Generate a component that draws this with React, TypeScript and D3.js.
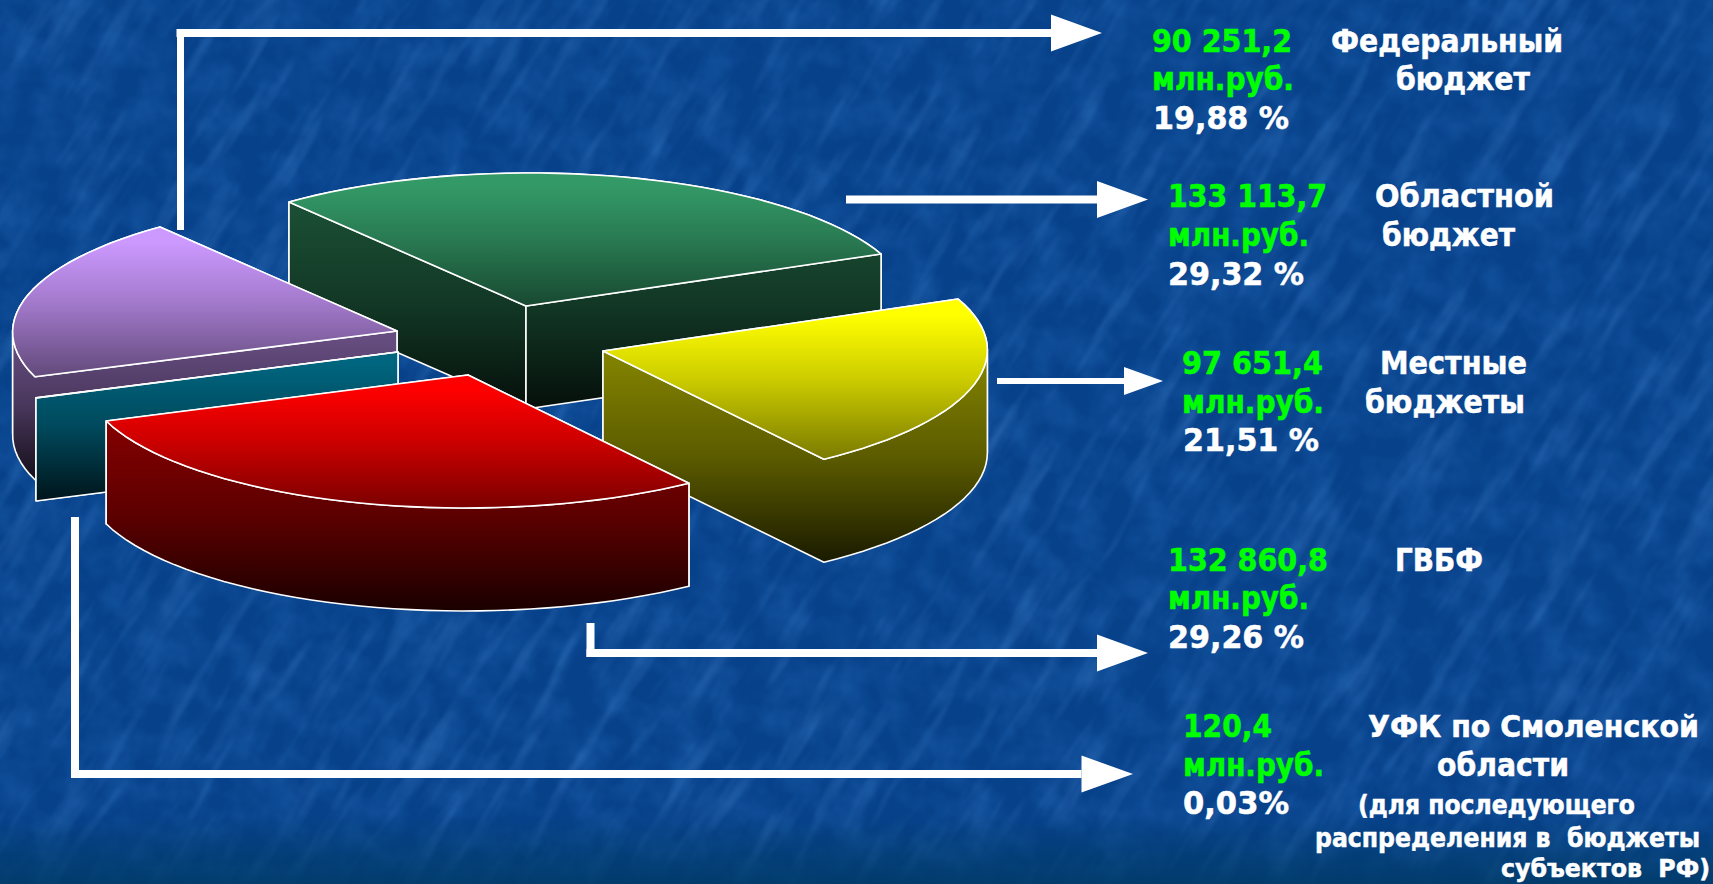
import React from "react";
import * as d3 from "d3";

// ---------- data ----------
const sliceKeys = ["region", "local", "gvbf", "ufk", "federal"];
const sliceValues = [133113.7, 97651.4, 132860.8, 120.4, 90251.2];
const sliceColors = ["#339966", "#FFFF00", "#FF0000", "#00CCFF", "#CC99FF"];
const drawOrder = ["region", "federal", "ufk", "local", "gvbf"];

// ---------- layout (not data) ----------
const W = 1713;
const H = 884;
const DEPTH = 103;
const E1: [number, number] = [-237, -104];
const E2: [number, number] = [302.6, -82.9];
const apexes: Record<string, [number, number]> = {
  region: [526, 306],
  local: [603, 351],
  gvbf: [468, 375],
  ufk: [398, 352],
  federal: [397, 331],
};

type Lab = { t: string; x: number; y: number; w: number; c: string; s?: number };
const GREEN = "#00FF00";
const WHITE = "#FFFFFF";
const labels: Lab[] = [
  { t: "90 251,2", x: 1152, y: 52, w: 140, c: GREEN },
  { t: "млн.руб.", x: 1152, y: 90, w: 142, c: GREEN },
  { t: "19,88 %", x: 1153, y: 129, w: 136, c: WHITE },
  { t: "Федеральный", x: 1331, y: 52, w: 232, c: WHITE },
  { t: "бюджет", x: 1396, y: 90, w: 134, c: WHITE },
  { t: "133 113,7", x: 1168, y: 207, w: 159, c: GREEN },
  { t: "млн.руб.", x: 1168, y: 246, w: 141, c: GREEN },
  { t: "29,32 %", x: 1168, y: 285, w: 136, c: WHITE },
  { t: "Областной", x: 1375, y: 207, w: 179, c: WHITE },
  { t: "бюджет", x: 1382, y: 246, w: 133, c: WHITE },
  { t: "97 651,4", x: 1182, y: 374, w: 141, c: GREEN },
  { t: "млн.руб.", x: 1182, y: 413, w: 142, c: GREEN },
  { t: "21,51 %", x: 1183, y: 451, w: 136, c: WHITE },
  { t: "Местные", x: 1380, y: 374, w: 147, c: WHITE },
  { t: "бюджеты", x: 1365, y: 413, w: 160, c: WHITE },
  { t: "132 860,8", x: 1168, y: 571, w: 160, c: GREEN },
  { t: "млн.руб.", x: 1168, y: 609, w: 141, c: GREEN },
  { t: "29,26 %", x: 1168, y: 648, w: 136, c: WHITE },
  { t: "ГВБФ", x: 1395, y: 571, w: 88, c: WHITE },
  { t: "120,4", x: 1183, y: 737, w: 89, c: GREEN },
  { t: "млн.руб.", x: 1183, y: 776, w: 141, c: GREEN },
  { t: "0,03%", x: 1183, y: 814, w: 106, c: WHITE },
  { t: "УФК по Смоленской", x: 1368, y: 737, w: 331, c: WHITE, s: 30 },
  { t: "области", x: 1437, y: 776, w: 132, c: WHITE },
  { t: "(для последующего", x: 1358, y: 814, w: 277, c: WHITE, s: 26 },
  { t: "распределения в\u00A0 бюджеты", x: 1315, y: 847, w: 385, c: WHITE, s: 26 },
  { t: "субъектов\u00A0 РФ)", x: 1501, y: 877, w: 209, c: WHITE, s: 25 },
];

type Arrow = { x0: number; y0?: number; x1: number; y: number; tip: number; th: number; hh: number };
const arrows: Arrow[] = [
  { x0: 180.5, y0: 230, x1: 1051, y: 33, tip: 1102, th: 8, hh: 18.5 },
  { x0: 846, x1: 1097, y: 199.5, tip: 1148, th: 8, hh: 18.5 },
  { x0: 997, x1: 1124, y: 381, tip: 1163, th: 6, hh: 14 },
  { x0: 590.5, y0: 623, x1: 1097, y: 653, tip: 1148, th: 8, hh: 18.5 },
  { x0: 75, y0: 517, x1: 1081.5, y: 774, tip: 1133, th: 8, hh: 18.5 },
];

// ---------- geometry ----------
type P = [number, number];
const proj = (a: number, apex: P): P => [
  apex[0] + E1[0] * Math.cos(a) + E2[0] * Math.sin(a),
  apex[1] + E1[1] * Math.cos(a) + E2[1] * Math.sin(a),
];
const line = d3.line<P>();
const pieArcs = d3
  .pie<number>()
  .sort(null)
  .value((d) => d)(sliceValues);

const shade = (hex: string, k: number) => {
  const c = d3.rgb(hex);
  return d3.rgb(c.r * k, c.g * k, c.b * k).formatHex();
};

function buildSlice(key: string) {
  const i = sliceKeys.indexOf(key);
  const arc = pieArcs[i];
  const apex = apexes[key];
  const n = Math.max(1, Math.ceil((arc.endAngle - arc.startAngle) / (Math.PI / 70)));
  const rim: P[] = d3.range(n + 1).map((k) => proj(arc.startAngle + ((arc.endAngle - arc.startAngle) * k) / n, apex));
  const outline: P[] = [apex, ...rim];
  const ext = (pts: P[]): P[] => [...pts, ...pts.slice().reverse().map((p) => [p[0], p[1] + DEPTH] as P)];
  const faces: { pts: P[]; front: boolean }[] = [];
  const pushRun = (pts: P[], front: boolean) => faces.push({ pts: ext(pts), front });
  const closed = [...outline, apex];
  let run: P[] = [closed[0]];
  let curr = closed[1][0] - closed[0][0] < 0;
  for (let j = 1; j < closed.length; j++) {
    const front = closed[j][0] - closed[j - 1][0] < 0;
    if (front !== curr) {
      pushRun(run, curr);
      run = [closed[j - 1]];
      curr = front;
    }
    run.push(closed[j]);
  }
  pushRun(run, curr);
  const frontPts = faces.filter((f) => f.front).flatMap((f) => f.pts);
  const topY = d3.extent(outline, (p) => p[1]) as [number, number];
  const sideY = d3.extent(frontPts, (p) => p[1]) as [number, number];
  return { key, color: sliceColors[i], outline, faces, topY, sideY };
}
const slices = drawOrder.map(buildSlice);

export default function App() {
  return (
    <svg width={W} height={H} viewBox={`0 0 ${W} ${H}`} style={{ position: "fixed", left: 0, top: 0, display: "block" }}>
      <defs>
        <filter id="streaks" x="0" y="0" width="100%" height="100%" colorInterpolationFilters="sRGB">
          <feTurbulence type="fractalNoise" baseFrequency="0.06 0.009" numOctaves={3} seed={7} />
          <feColorMatrix values="0 0 0 0 0.30  0 0 0 0 0.55  0 0 0 0 0.84  2.0 0 0 0 -1.02" />
          <feGaussianBlur stdDeviation="1.2" />
        </filter>
        <filter id="mottle" x="0" y="0" width="100%" height="100%" colorInterpolationFilters="sRGB">
          <feTurbulence type="fractalNoise" baseFrequency="0.03 0.03" numOctaves={3} seed={3} />
          <feColorMatrix values="0 0 0 0 0.12  0 0 0 0 0.38  0 0 0 0 0.68  1.4 0 0 0 -0.5" />
        </filter>
        <linearGradient id="bottomFade" x1="0" y1="0" x2="0" y2="1">
          <stop offset="0" stopColor="#003A66" stopOpacity={0} />
          <stop offset="1" stopColor="#003A66" stopOpacity={0.85} />
        </linearGradient>
        {slices.map((s) => (
          <React.Fragment key={s.key}>
            <linearGradient id={`top-${s.key}`} gradientUnits="userSpaceOnUse" x1="0" x2="0" y1={s.topY[0]} y2={s.topY[1]}>
              <stop offset="0.1" stopColor={s.color} />
              <stop offset="0.5" stopColor={shade(s.color, 0.8)} />
              <stop offset="1" stopColor={shade(s.color, 0.48)} />
            </linearGradient>
            <linearGradient id={`side-${s.key}`} gradientUnits="userSpaceOnUse" x1="0" x2="0" y1={s.sideY[0]} y2={s.sideY[1]}>
              <stop offset="0.06" stopColor={shade(s.color, 0.5)} />
              <stop offset="0.5" stopColor={shade(s.color, 0.36)} />
              <stop offset="1" stopColor={shade(s.color, 0.1)} />
            </linearGradient>
          </React.Fragment>
        ))}
      </defs>

      <rect width={W} height={H} fill="#07418A" />
      <rect width={W} height={H} filter="url(#mottle)" opacity={0.7} />
      <g transform={`rotate(32 ${W / 2} ${H / 2})`}>
        <rect x={-300} y={-700} width={W + 600} height={H + 1400} filter="url(#streaks)" opacity={0.42} />
      </g>
      <rect y={H - 70} width={W} height={70} fill="url(#bottomFade)" />

      {slices.map((s) => (
        <g key={s.key} stroke="#FFFFFF" strokeWidth={1.6} strokeLinejoin="round">
          {s.faces
            .slice()
            .sort((a, b) => Number(a.front) - Number(b.front))
            .map((f, i) => (
              <path key={i} d={line(f.pts) + "Z"} fill={`url(#side-${s.key})`} />
            ))}
          <path d={line(s.outline) + "Z"} fill={`url(#top-${s.key})`} />
        </g>
      ))}

      {arrows.map((a, i) => {
        const t = a.th / 2;
        return (
          <g key={i} fill="#FFFFFF">
            {a.y0 !== undefined && (
              <rect
                x={a.x0 - (i === 0 ? 3.5 : 4)}
                y={Math.min(a.y0, a.y - t)}
                width={i === 0 ? 7 : 8}
                height={Math.abs(a.y0 - a.y) + t}
              />
            )}
            <rect x={a.x0 - (a.y0 !== undefined ? 4 : 0)} y={a.y - t} width={a.x1 - a.x0 + 4} height={a.th} />
            <path
              d={
                line([
                  [a.x1, a.y - a.hh],
                  [a.tip, a.y],
                  [a.x1, a.y + a.hh],
                ]) + "Z"
              }
            />
          </g>
        );
      })}

      <g fontFamily="'DejaVu Sans', Verdana, sans-serif" fontWeight={700} style={{ fontStretch: "condensed" }}>
        {labels.map((l, i) => (
          <text
            key={i}
            x={l.x}
            y={l.y}
            fontSize={l.s ?? 32}
            fill={l.c}
            stroke={l.c}
            strokeWidth={0.5}
            textLength={l.w}
            lengthAdjust="spacingAndGlyphs"
          >
            {l.t}
          </text>
        ))}
      </g>
    </svg>
  );
}
